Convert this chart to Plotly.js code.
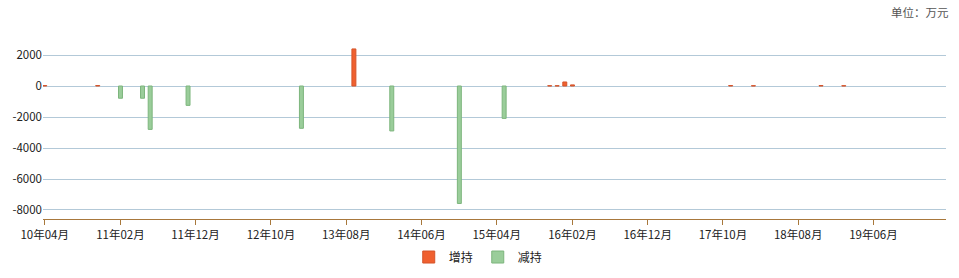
<!DOCTYPE html>
<html>
<head>
<meta charset="utf-8">
<script src="https://cdn.plot.ly/plotly-3.0.1.min.js"></script>
<style>html,body{margin:0;padding:0;background:#fff;}#chart{width:959px;height:278px;}</style>
</head>
<body>
<div id="chart"></div>
<script>
// 增持 (increase)
const incDates = ["2010-04-01","2010-11-01","2013-09-01","2015-11-01","2015-12-01","2016-01-01","2016-02-01","2017-11-01","2018-02-01","2018-11-01","2019-02-01"];
const incValues = [30, 30, 2390, 20, 20, 260, 70, 30, 20, 30, 20];
// 减持 (decrease)
const decDates = ["2011-02-01","2011-05-01","2011-06-01","2011-11-01","2013-02-01","2014-02-01","2014-11-01","2015-05-01"];
const decValues = [-790, -790, -2800, -1250, -2730, -2900, -7580, -2090];
const yTickVals = [2000, 0, -2000, -4000, -6000, -8000];
const yTickText = ["2000", "0", "-2000", "-4000", "-6000", "-8000"];
const seriesNames = ["增持", "减持"];

const barWidth = 16 * 86400000;
const font = "Noto Sans CJK SC, DejaVu Sans, sans-serif";

const traces = [
  {type: "bar", name: seriesNames[0], x: incDates, y: incValues, width: incDates.map(() => barWidth),
   marker: {color: "#f0602f", line: {color: "#d4542a", width: 1}}, hoverinfo: "none"},
  {type: "bar", name: seriesNames[1], x: decDates, y: decValues, width: decDates.map(() => barWidth),
   marker: {color: "#9acd9a", line: {color: "#7db57d", width: 1}}, hoverinfo: "none"}
];

const layout = {
  width: 959, height: 278,
  margin: {l: 43, r: 13, t: 43, b: 59, autoexpand: false},
  paper_bgcolor: "#fff", plot_bgcolor: "#fff",
  barmode: "overlay",
  showlegend: true,
  legend: {orientation: "h", x: 0.482, xanchor: "center", y: -0.216, yanchor: "middle",
           font: {family: font, size: 12, color: "#222"}, itemwidth: 30,
           traceorder: "normal"},
  xaxis: {
    type: "date",
    range: ["2010-03-25", "2020-03-20"],
    tickformat: "%y年%m月",
    tick0: "2010-04-01", dtick: "M10",
    ticks: "outside", ticklen: 5, tickcolor: "#a8783c",
    showline: true, linecolor: "#a8783c", linewidth: 1,
    showgrid: false, zeroline: false,
    tickfont: {family: font, size: 11.5, color: "#222"}
  },
  yaxis: {
    range: [-8581, 2774],
    tickvals: yTickVals, ticktext: yTickText,
    showgrid: true, gridcolor: "#b3c9d8", gridwidth: 1,
    zeroline: false, showline: false, ticks: "",
    tickfont: {family: font, size: 11.5, color: "#222"}
  },
  annotations: [{
    text: "单位：万元", xref: "paper", yref: "paper", x: 1.005, y: 1.12,
    xanchor: "right", yanchor: "bottom", showarrow: false,
    font: {family: font, size: 11.5, color: "#555"}
  }]
};

Plotly.newPlot("chart", traces, layout, {displayModeBar: false, staticPlot: true});
</script>
</body>
</html>
